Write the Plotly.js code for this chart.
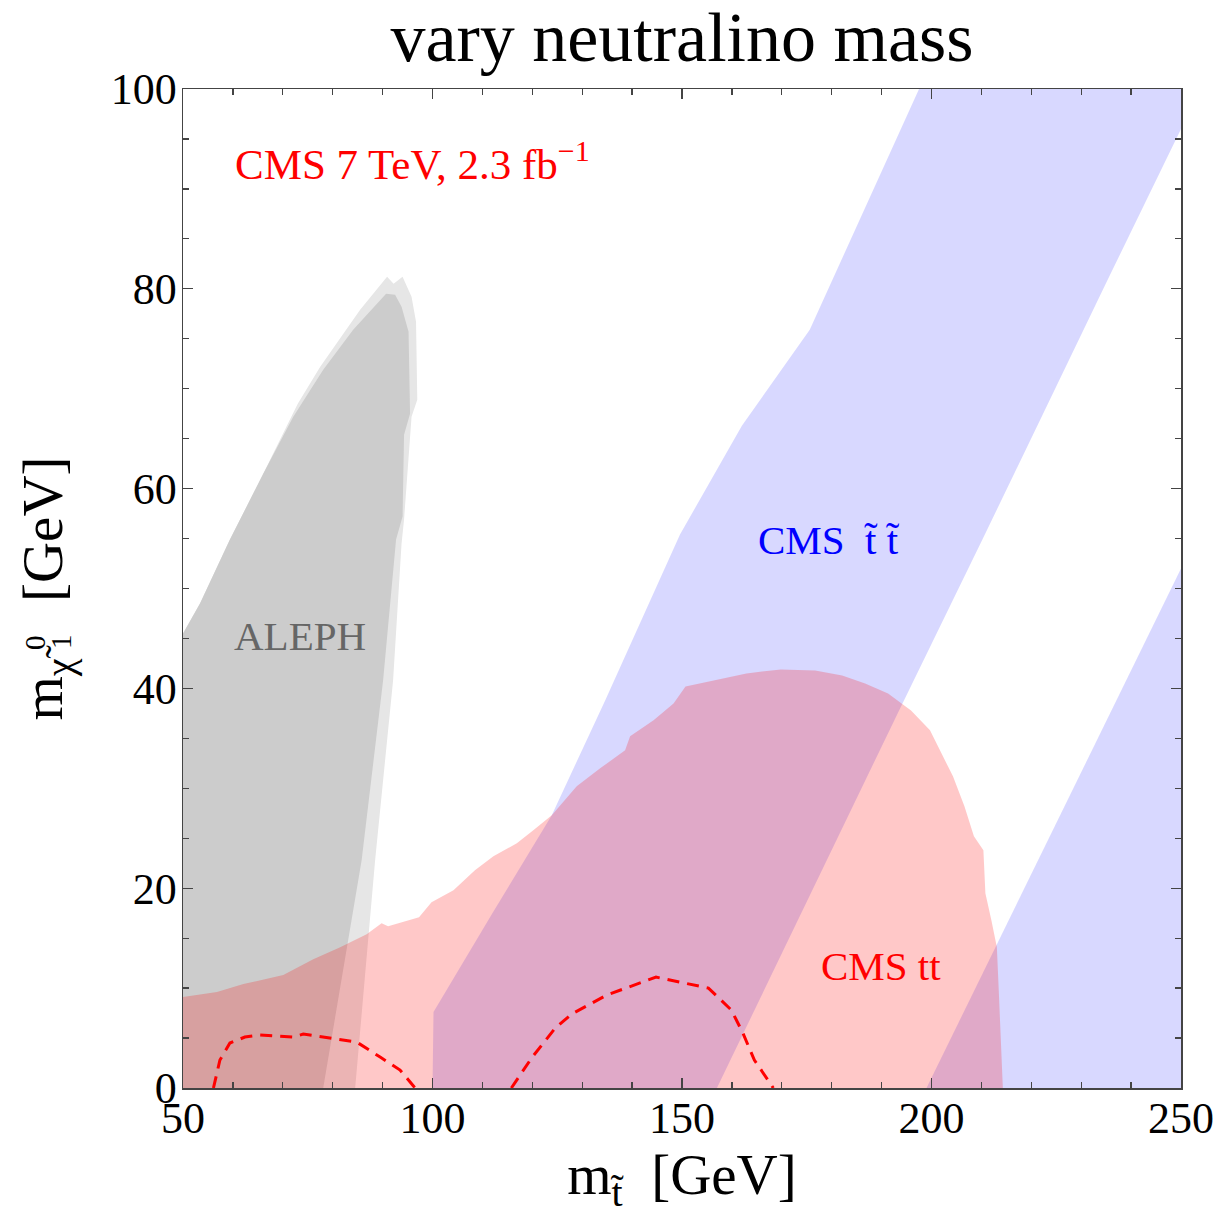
<!DOCTYPE html>
<html>
<head>
<meta charset="utf-8">
<script src="https://cdn.plot.ly/plotly-3.0.1.min.js"></script>
<style>
  html, body { margin: 0; padding: 0; background: #ffffff; }
  #chart { width: 1220px; height: 1215px; }
</style>
</head>
<body>
<div id="chart"></div>
<script>
// ALEPH excluded region (outer, lighter band)
const alephOuterX = [50, 50, 53.4, 59.4, 66.1, 69.4, 73.0, 77.5, 85.5, 90.9, 92.2, 94.0, 95.8, 96.7, 96.95, 95.8, 95.2, 94.3, 93.8, 92.1, 88.5, 84.5];
const alephOuterY = [0, 45.5, 48.5, 54.9, 61.5, 64.9, 68.5, 72.2, 77.9, 81.2, 80.5, 81.2, 79.2, 76.7, 68.9, 67.2, 62.9, 56.9, 54.5, 40.8, 22.8, 0];
// ALEPH excluded region (inner, darker)
const alephInnerX = [50, 50, 53.4, 59.4, 66.1, 72.1, 78.1, 84.1, 90.7, 92.5, 93.8, 95.2, 95.5, 94.3, 94.0, 92.7, 90.1, 85.8, 78.1];
const alephInnerY = [0, 45.5, 48.5, 54.9, 61.5, 67.2, 71.9, 75.9, 79.5, 79.4, 78.2, 75.7, 67.5, 65.4, 57.2, 54.9, 40.8, 22.8, 0];

// CMS stop-stop band (main diagonal band)
const stopBandX = [100, 100.2, 112, 123.9, 134.6, 149.6, 162, 175.6, 197.5, 250, 250, 235.4, 210.3, 193.7, 157];
const stopBandY = [0, 7.6, 17.5, 27.3, 38.8, 55.4, 66.3, 75.9, 100, 100, 96, 81, 55, 38, 0];
// CMS stop-stop band (lower right band)
const stopBand2X = [199, 250, 250];
const stopBand2Y = [0, 52, 0];

// CMS tt excluded region
const cmsTtX = [50, 50, 56.8, 62.1, 70.1, 76.1, 81.5, 86.8, 89.8, 91.1, 97.3, 99.8, 104.2, 108.5, 112.2, 116.9, 120.2, 123.9, 128.9, 133.6, 138.6, 139.6, 144.3, 148.3, 150.7, 155.3, 162.9, 169.8, 176.7, 182.1, 186.7, 191.3, 195.9, 199.7, 202.0, 204.3, 206.6, 208.5, 210.4, 210.8, 212.0, 213.1, 213.5, 214.3];
const cmsTtY = [0, 9.1, 9.6, 10.4, 11.3, 12.9, 14.1, 15.4, 16.5, 16.2, 17.1, 18.6, 19.8, 21.8, 23.2, 24.5, 25.8, 27.3, 30.2, 32.0, 33.8, 35.2, 36.8, 38.5, 40.2, 40.7, 41.5, 41.9, 41.8, 41.3, 40.5, 39.5, 37.8, 35.8, 33.5, 31.2, 28.2, 25.2, 23.8, 19.5, 16.8, 14.1, 9.5, 0];

// Expected limit (dashed red), two pieces
const dashLeftX = [56.1, 57.4, 59.4, 62.4, 65.4, 72.1, 74.1, 79.5, 84.8, 89.5, 93.5, 96.5];
const dashLeftY = [0, 2.8, 4.5, 5.1, 5.3, 5.1, 5.4, 5.0, 4.6, 3.1, 1.8, 0];
const dashRightX = [115.8, 120.0, 124.6, 127.9, 134.9, 144.8, 155.3, 159.9, 162.2, 164.5, 168.3];
const dashRightY = [0, 3.1, 6.0, 7.4, 9.3, 11.1, 10.0, 7.8, 5.5, 2.8, 0];

// Labels
const titleText = 'vary neutralino mass';
const xTitleText = 'm<sub>t\u0303</sub>  [GeV]';
const yTitleText = 'm<sub>\u03C7\u0303\u2002\u2009</sub>  [GeV]';
const yTitleSub = '1';
const yTitleSup = '0';
const lumiLabel = 'CMS 7 TeV, 2.3 fb<sup>\u22121</sup>';
const alephLabel = 'ALEPH';
const stopLabel = 'CMS  t\u0303 t\u0303';
const ttLabel = 'CMS tt';

const serif = 'Liberation Serif, Times New Roman, serif';

function area(x, y, color) {
  return { type: 'scatter', mode: 'lines', x: x, y: y, fill: 'toself', fillcolor: color,
           line: { width: 0, color: color }, hoverinfo: 'skip' };
}

const traces = [
  area(alephOuterX, alephOuterY, '#e6e6e6'),
  area(alephInnerX, alephInnerY, '#cccccc'),
  area(stopBandX, stopBandY, 'rgba(0,0,255,0.153)'),
  area(stopBand2X, stopBand2Y, 'rgba(0,0,255,0.153)'),
  area(cmsTtX, cmsTtY, 'rgba(255,0,0,0.215)'),
  { type: 'scatter', mode: 'lines', x: dashLeftX, y: dashLeftY,
    line: { color: '#ff0000', width: 3, dash: '12px,8px' }, hoverinfo: 'skip' },
  { type: 'scatter', mode: 'lines', x: dashRightX, y: dashRightY,
    line: { color: '#ff0000', width: 3, dash: '12px,8px' }, hoverinfo: 'skip' }
];

const axisCommon = {
  showgrid: false, zeroline: false, showline: true, linecolor: '#444444', linewidth: 1.5,
  mirror: 'ticks', ticks: 'inside', ticklen: 10, tickwidth: 1.3, tickcolor: '#444444',
  tickfont: { family: serif, size: 44, color: '#000000' }
};

const layout = {
  width: 1220, height: 1215,
  margin: { l: 183, r: 39, t: 89, b: 127 },
  paper_bgcolor: '#ffffff', plot_bgcolor: '#ffffff',
  showlegend: false,
  title: { text: titleText, font: { family: serif, size: 70, color: '#000000' },
           x: 0.559, xanchor: 'center', y: 0.970, yanchor: 'middle' },
  xaxis: Object.assign({}, axisCommon, {
    range: [50, 250], dtick: 50, tick0: 50, ticklabelstandoff: -9,
    minor: { dtick: 10, ticks: 'inside', ticklen: 6, tickcolor: '#444444', tickwidth: 1.2 },
    title: { text: xTitleText, font: { family: serif, size: 57, color: '#000000' }, standoff: 12 }
  }),
  yaxis: Object.assign({}, axisCommon, {
    range: [0, 100], dtick: 20, tick0: 0, ticklabelstandoff: -4,
    minor: { dtick: 5, ticks: 'inside', ticklen: 6, tickcolor: '#444444', tickwidth: 1.2 },
    title: { text: yTitleText, font: { family: serif, size: 57, color: '#000000' }, standoff: 30 }
  }),
  annotations: [
    { x: 60, y: 92.8, xref: 'x', yref: 'y', text: lumiLabel, showarrow: false,
      xanchor: 'left', yanchor: 'middle', font: { family: serif, size: 43, color: '#ff0000' } },
    { x: 73.4, y: 45.2, xref: 'x', yref: 'y', text: alephLabel, showarrow: false,
      xanchor: 'center', yanchor: 'middle', font: { family: serif, size: 41, color: '#666666' } },
    { x: 179.5, y: 54.9, xref: 'x', yref: 'y', text: stopLabel, showarrow: false,
      xanchor: 'center', yanchor: 'middle', font: { family: serif, size: 41, color: '#0000ff' } },
    { x: 189.9, y: 12.2, xref: 'x', yref: 'y', text: ttLabel, showarrow: false,
      xanchor: 'center', yanchor: 'middle', font: { family: serif, size: 41, color: '#ff0000' } },
    { x: -0.1222, y: 0.4464, xref: 'paper', yref: 'paper', text: yTitleSub, showarrow: false,
      textangle: -90, xanchor: 'center', yanchor: 'middle',
      font: { family: serif, size: 29, color: '#000000' } },
    { x: -0.1483, y: 0.4464, xref: 'paper', yref: 'paper', text: yTitleSup, showarrow: false,
      textangle: -90, xanchor: 'center', yanchor: 'middle',
      font: { family: serif, size: 29, color: '#000000' } }
  ]
};

Plotly.newPlot('chart', traces, layout, { staticPlot: true, displayModeBar: false });
</script>
</body>
</html>
